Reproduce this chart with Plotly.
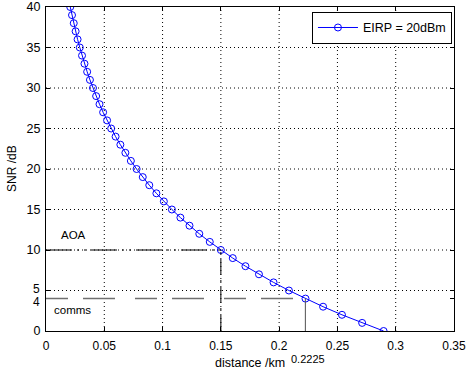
import plotly.graph_objects as go

# SNR (dB) values of the plotted points and the distances (km)
snr_db = list(range(0, 41))
distance_km = [0.2896, 0.2712, 0.2539, 0.2377, 0.2226, 0.2084, 0.1952, 0.1827, 0.1711, 0.1602,
               0.1500, 0.1405, 0.1315, 0.1231, 0.1153, 0.1080, 0.1011, 0.0947, 0.0886, 0.0830,
               0.0777, 0.0728, 0.0681, 0.0638, 0.0597, 0.0559, 0.0524, 0.0490, 0.0459, 0.0430,
               0.0403, 0.0377, 0.0353, 0.0330, 0.0309, 0.0290, 0.0271, 0.0254, 0.0238, 0.0223,
               0.0208]
series_name = "EIRP = 20dBm"

# reference thresholds
aoa_snr, aoa_dist = 10, 0.15
comms_snr, comms_dist = 4, 0.2225
close_tick = 5  # tick label drawn separately, as it sits right above the "4" label

x_ticks = [0, 0.05, 0.1, 0.15, 0.2, 0.25, 0.3, 0.35]
x_tick_text = ["0", "0.05", "0.1", "0.15", "0.2", "0.25", "0.3", "0.35"]
y_ticks = [0, 4, 5, 10, 15, 20, 25, 30, 35, 40]
y_tick_text = ["0", "", "", "10", "15", "20", "25", "30", "35", "40"]
x_grid = [0.05, 0.1, 0.15, 0.2, 0.25, 0.3]
y_grid = [5, 10, 15, 20, 25, 30, 35]

FONT = "Liberation Sans, Arial, sans-serif"

fig = go.Figure()
fig.add_trace(go.Scatter(
    x=distance_km, y=snr_db, mode="lines+markers", name=series_name,
    line=dict(color="#0000ff", width=1),
    marker=dict(symbol="circle-open", size=7, color="#0000ff", line=dict(width=1)),
))

shapes = []
for gx in x_grid:
    shapes.append(dict(type="line", xref="x", yref="paper", x0=gx, x1=gx, y0=0, y1=1,
                       line=dict(color="black", width=1, dash="1px,3px"), layer="below"))
for gy in y_grid:
    shapes.append(dict(type="line", xref="paper", yref="y", x0=0, x1=1, y0=gy, y1=gy,
                       line=dict(color="black", width=1, dash="1px,3px"), layer="below"))
# AOA threshold lines (dash-dot black)
shapes.append(dict(type="line", xref="x", yref="y", x0=0, x1=aoa_dist, y0=aoa_snr, y1=aoa_snr,
                   line=dict(color="black", width=1, dash="26px,5px,2px,5px,2px,5px")))
shapes.append(dict(type="line", xref="x", yref="y", x0=aoa_dist, x1=aoa_dist, y0=0, y1=aoa_snr,
                   line=dict(color="black", width=1, dash="16px,5px,2px,5px")))
# comms threshold lines (grey)
shapes.append(dict(type="line", xref="x", yref="y", x0=0, x1=comms_dist, y0=comms_snr, y1=comms_snr,
                   line=dict(color="#707070", width=1.5, dash="22px,15px,32px,20px")))
shapes.append(dict(type="line", xref="x", yref="y", x0=comms_dist, x1=comms_dist, y0=0, y1=comms_snr,
                   line=dict(color="#505050", width=1)))

annotations = [
    dict(x=0.024, y=11.9, xref="x", yref="y", text="AOA", showarrow=False,
         font=dict(family=FONT, size=11.5, color="black")),
    dict(x=0.023, y=2.6, xref="x", yref="y", text="comms", showarrow=False,
         font=dict(family=FONT, size=11.5, color="black")),
    dict(x=comms_dist, y=0, xref="x", yref="paper", yanchor="middle", yshift=-28, xshift=3,
         text=str(comms_dist), showarrow=False,
         font=dict(family=FONT, size=11, color="black")),
    dict(x=0.5, y=0, xref="paper", yref="paper", yanchor="middle", yshift=-32,
         text="distance /km", showarrow=False,
         font=dict(family=FONT, size=12.5, color="black")),
    dict(x=0, y=0.5, xref="paper", yref="paper", xanchor="center", xshift=-34,
         text="SNR /dB", textangle=-90, showarrow=False,
         font=dict(family=FONT, size=12, color="black")),
    dict(x=0, y=comms_snr, xref="paper", yref="y", xanchor="right", yanchor="middle",
         xshift=-4, yshift=-3.5, text=str(comms_snr), showarrow=False,
         font=dict(family=FONT, size=12, color="black")),
    dict(x=0, y=close_tick, xref="paper", yref="y", xanchor="right", yanchor="middle",
         xshift=-4, yshift=2, text=str(close_tick), showarrow=False,
         font=dict(family=FONT, size=12, color="black")),
]

fig.update_layout(
    width=466, height=374,
    margin=dict(l=46, r=12, t=7, b=43),
    paper_bgcolor="white", plot_bgcolor="white",
    font=dict(family=FONT, size=12.5, color="black"),
    shapes=shapes, annotations=annotations,
    showlegend=True,
    legend=dict(x=0.995, y=0.985, xanchor="right", yanchor="top",
                bordercolor="black", borderwidth=1, bgcolor="white", itemwidth=40,
                font=dict(family=FONT, size=12.5, color="black")),
    xaxis=dict(range=[0, 0.35], tickvals=x_ticks, ticktext=x_tick_text, showgrid=False,
               zeroline=False, showline=True, linecolor="black", linewidth=1, mirror="allticks",
               ticks="inside", ticklen=4, tickcolor="black", tickfont=dict(size=12),
               ticklabelstandoff=4, ticklabeloverflow="allow", automargin=False),
    yaxis=dict(range=[0, 40], tickvals=y_ticks, ticktext=y_tick_text, showgrid=False,
               zeroline=False, showline=True, linecolor="black", linewidth=1, mirror="allticks",
               ticks="inside", ticklen=4, tickcolor="black", tickfont=dict(size=12.5),
               ticklabelstandoff=2, automargin=False),
)

fig.write_html("out.html")
